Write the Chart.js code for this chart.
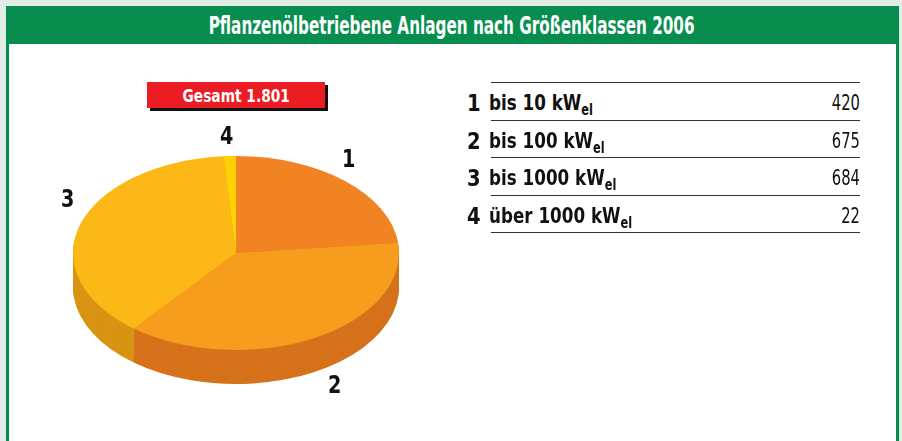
<!DOCTYPE html>
<html>
<head>
<meta charset="utf-8">
<script src="https://cdn.jsdelivr.net/npm/chart.js@4/dist/chart.umd.min.js"></script>
<style>
  body { margin: 0; width: 902px; height: 441px; background: #e1ede5; overflow: hidden; position: relative;
         font-family: "DejaVu Sans", sans-serif; font-weight: bold; }
  .sq { display: inline-block; white-space: nowrap; }
  #frame { position: absolute; left: 6px; top: 6px; width: 887px; height: 440px; background: #fff;
           border-left: 3px solid #078e4f; border-right: 3px solid #078e4f; }
  #title { position: absolute; left: 6px; top: 6px; width: 891px; height: 38px; background: #078e4f;
           color: #fff; font-size: 24px; line-height: 40px; text-align: center; }
  #title .sq { transform: scaleX(0.635); transform-origin: center; }
  #total { position: absolute; left: 147px; top: 82px; width: 178px; height: 26px; background: #ec1c24;
           color: #fff; font-size: 18px; line-height: 27px; text-align: center; box-shadow: 3px 3px 0 #111; }
  #total .sq { transform: scaleX(0.765); }
  #pie { position: absolute; left: 66px; top: 83px; }
  .lab { position: absolute; font-size: 24px; color: #111; transform: scaleX(0.8); transform-origin: left; }
  #table { position: absolute; left: 491px; top: 82px; width: 369px; border-top: 1.5px solid #333; }
  .row { position: relative; height: 36.5px; border-bottom: 1.5px solid #333; font-size: 22px; line-height: 40px; color: #111; }
  .row .n { position: absolute; left: -24px; top: 0; font-size: 23px; transform: scaleX(0.85); transform-origin: left; }
  .row .t { position: absolute; left: -2px; top: 0; transform: scaleX(0.762); transform-origin: left; }
  .row .v { position: absolute; right: 0; top: 0; font-weight: normal; transform: scaleX(0.67); transform-origin: right; }
  .row sub { font-size: 15px; vertical-align: -5px; line-height: 0; }
</style>
</head>
<body>
<div id="frame"></div>
<div id="title"><span class="sq">Pflanzenölbetriebene Anlagen nach Größenklassen 2006</span></div>
<div id="total"><span class="sq">Gesamt 1.801</span></div>
<canvas id="pie" width="340" height="340"></canvas>
<div class="lab" style="left:342px;top:145px;">1</div>
<div class="lab" style="left:328px;top:371px;">2</div>
<div class="lab" style="left:61px;top:185px;">3</div>
<div class="lab" style="left:220px;top:122px;">4</div>
<div id="table"></div>
<script>
const categories = ["1", "2", "3", "4"];
const classLabels = ["bis 10 kW", "bis 100 kW", "bis 1000 kW", "über 1000 kW"];
const counts = [420, 675, 684, 22];
const topColors = ["#f28322", "#f69d1e", "#fbb817", "#fed105"];
const sideColors = ["#d0661c", "#d6721b", "#d99414", "#dcb000"];

// legend table on the right
const table = document.getElementById("table");
categories.forEach((c, i) => {
  const row = document.createElement("div");
  row.className = "row";
  row.innerHTML = '<span class="n">' + c + '</span>' +
    '<span class="t">' + classLabels[i] + '<sub>el</sub></span>' +
    '<span class="v">' + counts[i] + '</span>';
  table.appendChild(row);
});

const depth = 34;      // height of the pie side, px
const tilt = 97 / 163; // vertical squash of the top face

const pie3d = {
  id: "pie3d",
  beforeDatasetsDraw(chart) {
    const ctx = chart.ctx;
    const arcs = chart.getDatasetMeta(0).data;
    const cx = arcs[0].x, cy = arcs[0].y;
    // side wall: the sectors stacked downwards in darker colours
    for (let d = depth; d >= 1; d--) {
      ctx.save();
      ctx.translate(cx, cy + d);
      ctx.scale(1, tilt);
      ctx.translate(-cx, -cy);
      arcs.forEach((a, i) => {
        ctx.beginPath();
        ctx.moveTo(a.x, a.y);
        ctx.arc(a.x, a.y, a.outerRadius, a.startAngle, a.endAngle);
        ctx.closePath();
        ctx.fillStyle = sideColors[i];
        ctx.fill();
      });
      ctx.restore();
    }
    ctx.save();
    ctx.translate(cx, cy);
    ctx.scale(1, tilt);
    ctx.translate(-cx, -cy);
  },
  afterDatasetsDraw(chart) {
    chart.ctx.restore();
  }
};

new Chart(document.getElementById("pie"), {
  type: "pie",
  data: {
    labels: categories,
    datasets: [{
      data: counts,
      backgroundColor: topColors,
      borderWidth: 0,
      clip: false
    }]
  },
  options: {
    responsive: false,
    animation: false,
    events: [],
    layout: { padding: 7 },
    plugins: { legend: { display: false }, tooltip: { enabled: false } }
  },
  plugins: [pie3d]
});
</script>
</body>
</html>
